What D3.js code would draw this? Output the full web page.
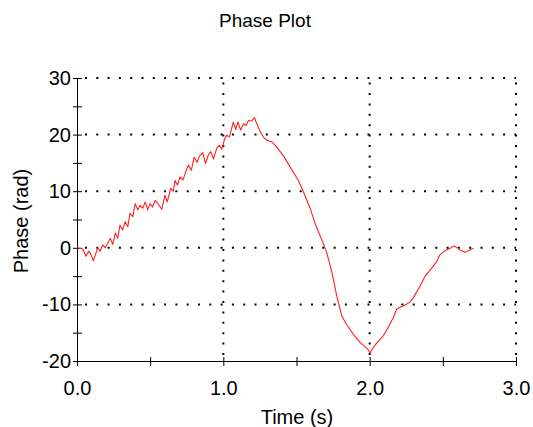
<!DOCTYPE html>
<html>
<head>
<meta charset="utf-8">
<script src="https://cdn.jsdelivr.net/npm/d3@7"></script>
<style>
  html, body { margin: 0; padding: 0; background: #ffffff; }
  svg { display: block; }
  text { font-family: "Liberation Sans", Arial, sans-serif; fill: #000; }
</style>
</head>
<body>
<svg id="chart" width="533" height="427"></svg>
<script>
const chartTitle = "Phase Plot";
const xAxisTitle = "Time (s)";
const yAxisTitle = "Phase (rad)";

const timeS = [
  0.000, 0.039, 0.062, 0.080, 0.096, 0.111, 0.130, 0.141, 0.157, 0.176,
  0.193, 0.210, 0.228, 0.244, 0.262, 0.278, 0.294, 0.312, 0.330, 0.347,
  0.362, 0.381, 0.398, 0.415, 0.431, 0.449, 0.467, 0.483, 0.499, 0.517,
  0.535, 0.556, 0.579, 0.601, 0.617, 0.640, 0.658, 0.670, 0.686, 0.704,
  0.725, 0.745, 0.761, 0.781, 0.801, 0.820, 0.837, 0.859, 0.878, 0.897,
  0.914, 0.933, 0.955, 0.973, 0.990, 1.008, 1.022, 1.042, 1.068, 1.085,
  1.100, 1.118, 1.138, 1.155, 1.172, 1.193, 1.213, 1.227, 1.251, 1.275,
  1.299, 1.331, 1.365, 1.410, 1.456, 1.513, 1.547, 1.593, 1.627, 1.673,
  1.707, 1.741, 1.775, 1.809, 1.843, 1.889, 1.934, 1.969, 1.989, 2.003,
  2.021, 2.049, 2.094, 2.128, 2.162, 2.183, 2.208, 2.242, 2.276, 2.299,
  2.344, 2.379, 2.424, 2.459, 2.481, 2.515, 2.550, 2.572, 2.595, 2.618,
  2.652, 2.675, 2.709
];
const phaseRad = [
  0.0, -0.2, -1.5, -0.6, -1.2, -2.3, -0.9, 0.0, -0.6, 0.5,
  0.0, 0.8, 1.7, 0.6, 2.6, 1.7, 4.0, 3.2, 4.6, 3.7,
  6.1, 5.5, 7.8, 6.7, 7.5, 7.0, 8.1, 6.7, 7.8, 7.2,
  8.4, 7.7, 6.8, 9.3, 8.1, 10.5, 10.0, 11.9, 11.1, 12.5,
  12.0, 13.6, 14.6, 13.7, 16.0, 15.1, 16.2, 16.8, 14.9, 16.4,
  17.0, 15.7, 17.6, 18.1, 17.4, 19.2, 19.9, 19.6, 22.2, 20.9,
  22.2, 20.8, 21.9, 21.6, 22.5, 22.4, 23.0, 22.0, 20.6, 19.5,
  19.0, 18.7, 17.8, 16.3, 14.3, 11.9, 9.9, 7.0, 4.3, 1.4,
  -0.9, -4.2, -8.5, -12.0, -13.6, -15.3, -16.7, -17.5, -18.0, -18.6,
  -17.8, -16.8, -15.5, -14.0, -12.3, -10.9, -10.5, -10.1, -9.6, -8.8,
  -6.8, -5.0, -3.6, -2.4, -1.2, -0.5, -0.1, 0.3, 0.1, -0.4,
  -0.8, -0.5, -0.1
];

const xTickValues = [0, 0.5, 1.0, 1.5, 2.0, 2.5, 3.0];
const xTickLabels = ["0.0", "", "1.0", "", "2.0", "", "3.0"];
const yTickValues = [-20, -15, -10, -5, 0, 5, 10, 15, 20, 25, 30];
const yTickLabels = ["-20", "", "-10", "", "0", "", "10", "", "20", "", "30"];
const xGridValues = [1.0, 2.0, 3.0];
const yGridValues = [-10, 0, 10, 20, 30];
const xDomain = [0, 3];
const yDomain = [-20, 30];

const svg = d3.select("#chart");
const pLeft = 77, pRight = 516, pTop = 78, pBottom = 361;

const x = d3.scaleLinear().domain(xDomain).range([pLeft, pRight]);
const y = d3.scaleLinear().domain(yDomain).range([pBottom, pTop]);

// grid
const grid = svg.append("g");
grid.selectAll("line.hg").data(yGridValues).enter().append("line")
  .attr("x1", pLeft).attr("x2", pRight)
  .attr("y1", d => y(d)).attr("y2", d => y(d))
  .attr("stroke", "#000").attr("stroke-width", 2)
  .attr("stroke-dasharray", "2,9.3").attr("stroke-dashoffset", -8);
grid.selectAll("line.vg").data(xGridValues).enter().append("line")
  .attr("x1", d => x(d)).attr("x2", d => x(d))
  .attr("y1", pBottom).attr("y2", pTop)
  .attr("stroke", "#000").attr("stroke-width", 2)
  .attr("stroke-dasharray", "2,8.4").attr("stroke-dashoffset", -6);

// axes
const xAxis = d3.axisBottom(x).tickValues(xTickValues)
  .tickFormat((d, i) => xTickLabels[i]).tickSizeInner(5).tickSizeOuter(0).tickPadding(15);
const gx = svg.append("g").attr("transform", `translate(0,${pBottom})`).call(xAxis);
gx.select(".domain").attr("stroke", "#000").attr("d", `M${pLeft - 2},0.5H${pRight}`);
gx.selectAll(".tick line").attr("y1", -4).attr("y2", 5).attr("stroke", "#000");
gx.selectAll(".tick text").style("font-size", "20px")
  .style("font-family", "'Liberation Sans', Arial, sans-serif");

const yAxis = d3.axisLeft(y).tickValues(yTickValues)
  .tickFormat((d, i) => yTickLabels[i]).tickSizeInner(4).tickSizeOuter(0).tickPadding(2);
const gy = svg.append("g").attr("transform", `translate(${pLeft},0)`).call(yAxis);
gy.select(".domain").attr("stroke", "#000").attr("d", `M0.5,${pTop}V${pBottom + 5}`);
gy.selectAll(".tick line").attr("x1", 5).attr("x2", -4).attr("stroke", "#000");
gy.selectAll(".tick text").style("font-size", "20px")
  .style("font-family", "'Liberation Sans', Arial, sans-serif");

// line
const pts = timeS.map((t, i) => [t, phaseRad[i]]);
svg.append("path").datum(pts)
  .attr("fill", "none").attr("stroke", "#ff2020").attr("stroke-width", 1.1)
  .attr("stroke-linejoin", "round")
  .attr("d", d3.line().x(d => x(d[0])).y(d => y(d[1])));

// titles
svg.append("text").attr("x", 265).attr("y", 27).attr("text-anchor", "middle")
  .style("font-size", "19px").text(chartTitle);
svg.append("text").attr("x", 297).attr("y", 424).attr("text-anchor", "middle")
  .style("font-size", "20px").text(xAxisTitle);
svg.append("text").attr("transform", "translate(28,221) rotate(-90)")
  .attr("text-anchor", "middle").style("font-size", "20px").text(yAxisTitle);
</script>
</body>
</html>
